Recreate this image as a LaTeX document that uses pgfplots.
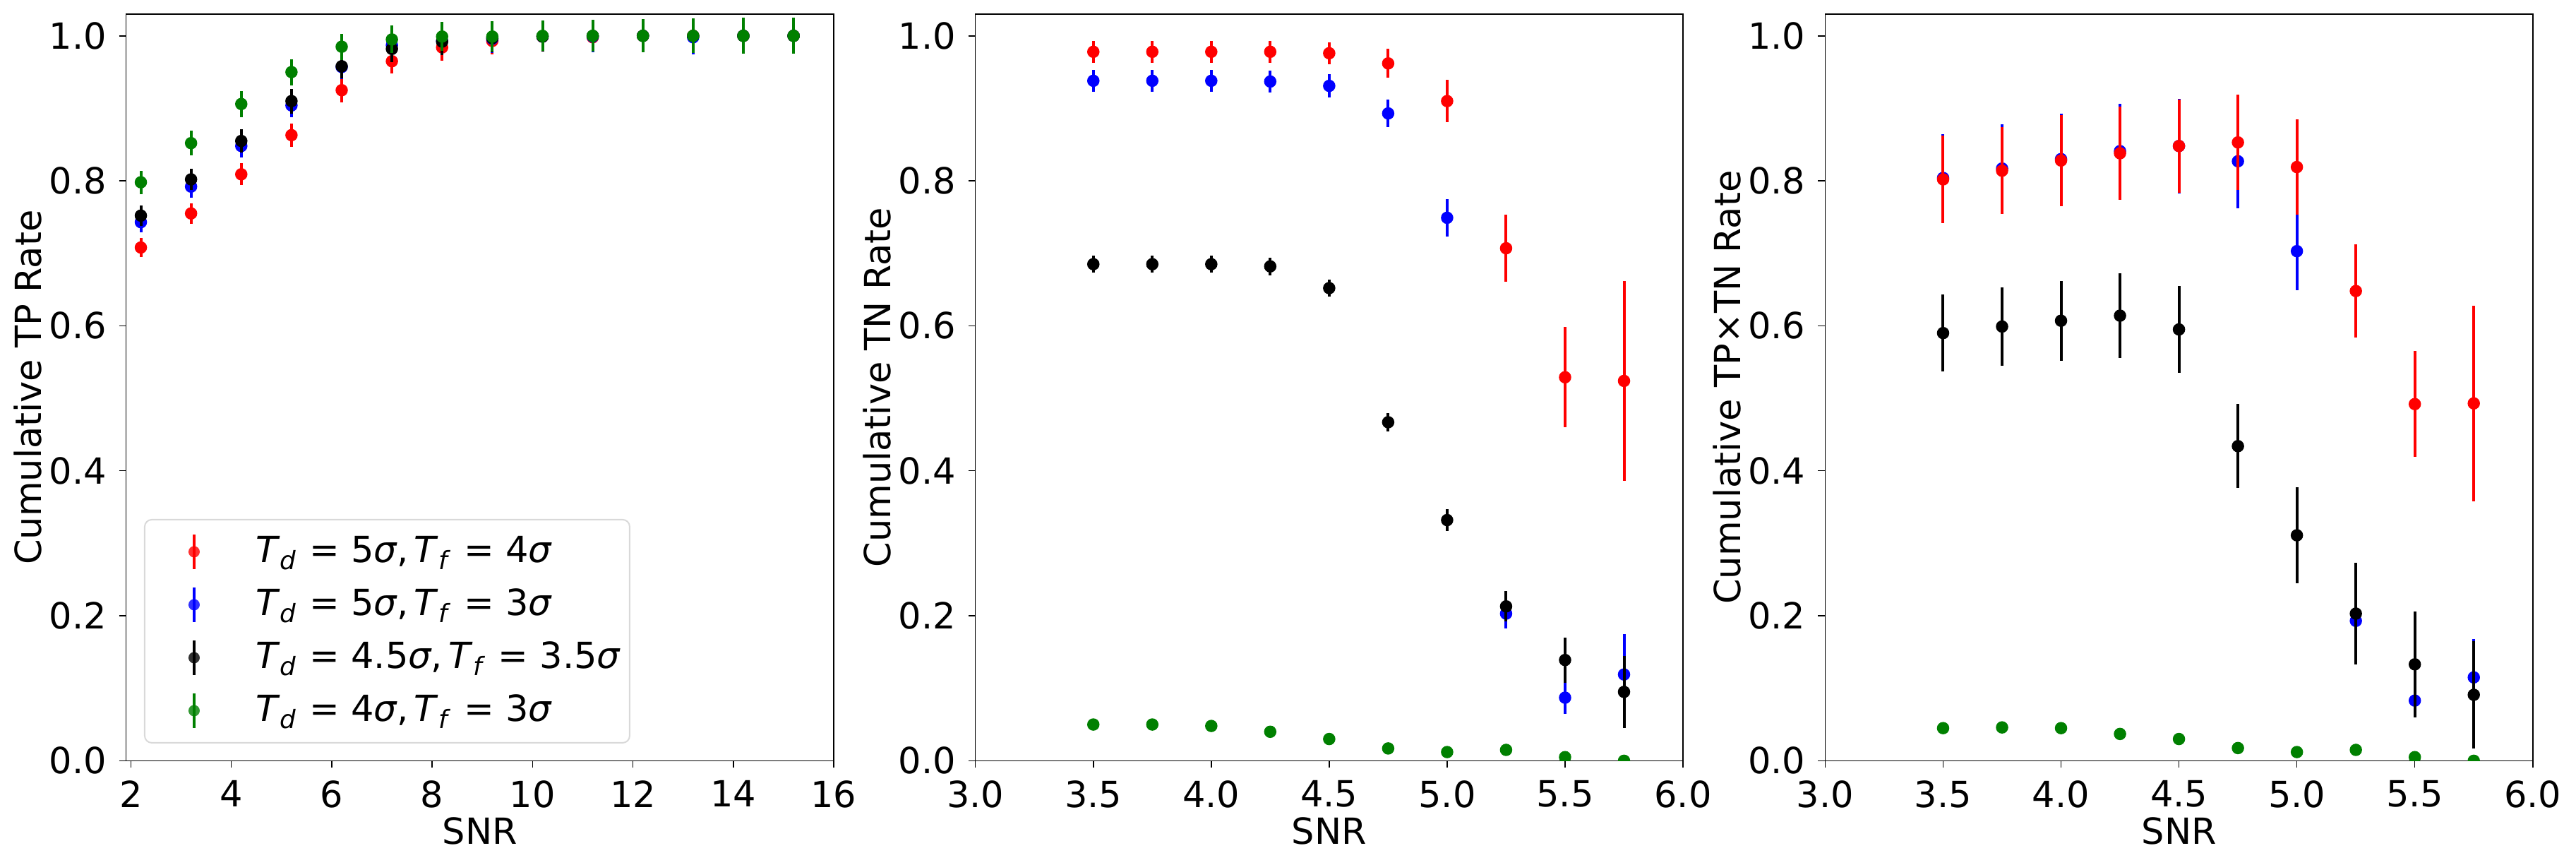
\documentclass[border=0pt]{standalone}
\usepackage{pgfplots}
\pgfplotsset{compat=1.18}
\usepackage{pgfplotstable}
\usepackage{fontspec}
\setmainfont{DejaVu Sans}
\definecolor{mgreen}{RGB}{0,128,0}
\definecolor{mred}{RGB}{255,0,0}
\definecolor{mblue}{RGB}{0,0,255}

\pgfplotstableread{
x    r     re    b     be    k     ke    g     ge
2.2  0.708 0.013 0.743 0.014 0.752 0.014 0.798 0.016
3.2  0.755 0.014 0.792 0.015 0.802 0.015 0.852 0.017
4.2  0.809 0.015 0.848 0.016 0.855 0.016 0.906 0.018
5.2  0.863 0.016 0.904 0.016 0.910 0.017 0.950 0.018
6.2  0.925 0.017 0.957 0.017 0.958 0.017 0.985 0.018
7.2  0.965 0.017 0.987 0.018 0.982 0.018 0.995 0.019
8.2  0.984 0.018 0.993 0.019 0.992 0.019 0.999 0.020
9.2  0.993 0.019 0.996 0.020 0.997 0.020 0.999 0.021
10.2 0.999 0.020 0.999 0.021 0.999 0.021 1.000 0.021
11.2 0.998 0.021 0.999 0.022 1.000 0.022 1.000 0.022
12.2 1.000 0.022 1.000 0.022 1.000 0.023 1.000 0.023
13.2 1.000 0.023 0.998 0.024 1.000 0.024 1.000 0.024
14.2 1.000 0.024 1.000 0.025 1.000 0.025 1.000 0.025
15.2 1.000 0.025 1.000 0.025 1.000 0.025 1.000 0.025
}\tp

\pgfplotstableread{
x    r     re    b     be    k     ke    g     ge
3.50 0.978 0.015 0.938 0.015 0.685 0.012 0.050 0.003
3.75 0.978 0.015 0.938 0.015 0.685 0.012 0.050 0.003
4.00 0.978 0.015 0.938 0.015 0.685 0.012 0.048 0.003
4.25 0.978 0.015 0.937 0.015 0.682 0.012 0.040 0.003
4.50 0.976 0.015 0.931 0.016 0.652 0.012 0.030 0.003
4.75 0.962 0.020 0.893 0.019 0.467 0.013 0.017 0.002
5.00 0.910 0.029 0.749 0.026 0.332 0.015 0.012 0.002
5.25 0.707 0.046 0.203 0.020 0.213 0.021 0.015 0.002
5.50 0.529 0.069 0.087 0.022 0.139 0.031 0.005 0.002
5.75 0.524 0.138 0.119 0.056 0.095 0.050 0.000 0.001
}\tn

\pgfplotstableread{
x    r     re    b     be    k     ke    g      ge
3.50 0.802 0.060 0.804 0.060 0.590 0.053 0.045  0.003
3.75 0.814 0.060 0.817 0.061 0.599 0.054 0.046  0.003
4.00 0.828 0.063 0.830 0.063 0.607 0.055 0.045  0.003
4.25 0.838 0.064 0.841 0.065 0.614 0.058 0.037  0.003
4.50 0.848 0.064 0.848 0.065 0.595 0.060 0.030  0.003
4.75 0.853 0.066 0.827 0.065 0.434 0.058 0.0175 0.002
5.00 0.819 0.066 0.703 0.054 0.311 0.066 0.012  0.002
5.25 0.648 0.064 0.193 0.030 0.203 0.070 0.015  0.002
5.50 0.492 0.073 0.083 0.022 0.133 0.073 0.005  0.002
5.75 0.493 0.135 0.115 0.053 0.091 0.074 0.000  0.001
}\tptn

\newcommand\legimg[1]{%
  \path[draw=none,fill=none] (0pt,-7.5pt) rectangle (29pt,7.5pt);
  \draw[#1,line width=0.8pt,rounded corners=0pt] (11.5pt,-4.9pt) -- (11.5pt,4.9pt);
  \fill[#1,draw=none] (11.5pt,0pt) circle (1.6pt);}

\pgfplotsset{
  base/.style={
    scale only axis, width=200.46pt, height=211.48pt, anchor=south west,
    ymin=0, ymax=1.03, ytick={0,0.2,...,1.0},
    tick align=outside, tick pos=left, major tick length=2pt,
    axis line style={line width=0.3pt},
    every tick/.style={black, line width=0.3pt},
    clip marker paths=true,
    /pgf/number format/assume math mode=true,
    yticklabel style={/pgf/number format/fixed,/pgf/number format/fixed zerofill,/pgf/number format/precision=1},
    font=\fontsize{10.2}{12.2}\selectfont,
    every axis x label/.style={at={(axis description cs:0.5,-0.0946)},anchor=center},
    every axis y label/.style={at={(axis description cs:-0.1387,0.5)},rotate=90,anchor=center},
    xlabel=SNR,
  },
  snr/.style={xmin=3, xmax=6, xtick={3,3.5,...,6},
    xticklabel style={/pgf/number format/fixed,/pgf/number format/fixed zerofill,/pgf/number format/precision=1}},
  ser/.style={#1, only marks, mark=*, mark size=1.6pt, mark options={line width=0.3pt},
    error bars/.cd, y dir=both, y explicit, error mark=none,
    error bar style={line width=0.8pt,#1}},
}

\begin{document}
\fontsize{10.2}{12.2}\selectfont
\begin{tikzpicture}
\useasboundingbox (0,0) rectangle (729.8pt,245pt);

\begin{axis}[base, at={(35.74pt,29.52pt)},
  xmin=1.907, xmax=16, xtick={2,4,...,16},
  ylabel={Cumulative TP Rate},
  legend style={at={(0.0252,0.0231)}, anchor=south west,
    draw=black!15, line width=0.4pt, rounded corners=2pt,
    fill=white, fill opacity=0.8, text opacity=1,
    inner xsep=2.5pt, inner ysep=1.6pt, row sep=0pt,
    nodes={inner sep=0pt, draw=none, font=\fontsize{10.2}{12.2}\selectfont}},
  legend cell align=left]
\addplot[legend image code/.code={\legimg{mred}}, ser=mred] table[x=x,y=r,y error=re]{\tp};
\addlegendentry{\textit{T}\textsubscript{\textit{d}} = 5\textit{σ},\,\textit{T}\textsubscript{\textit{f}} = 4\textit{σ}}
\addplot[legend image code/.code={\legimg{mblue}}, ser=mblue] table[x=x,y=b,y error=be]{\tp};
\addlegendentry{\textit{T}\textsubscript{\textit{d}} = 5\textit{σ},\,\textit{T}\textsubscript{\textit{f}} = 3\textit{σ}}
\addplot[legend image code/.code={\legimg{black}}, ser=black] table[x=x,y=k,y error=ke]{\tp};
\addlegendentry{\textit{T}\textsubscript{\textit{d}} = 4.5\textit{σ},\,\textit{T}\textsubscript{\textit{f}} = 3.5\textit{σ}}
\addplot[legend image code/.code={\legimg{mgreen}}, ser=mgreen] table[x=x,y=g,y error=ge]{\tp};
\addlegendentry{\textit{T}\textsubscript{\textit{d}} = 4\textit{σ},\,\textit{T}\textsubscript{\textit{f}} = 3\textit{σ}}
\end{axis}

\begin{axis}[base, snr, at={(276.34pt,29.52pt)}, ylabel={Cumulative TN Rate}]
\addplot[ser=mred] table[x=x,y=r,y error=re]{\tn};
\addplot[ser=mblue] table[x=x,y=b,y error=be]{\tn};
\addplot[ser=black] table[x=x,y=k,y error=ke]{\tn};
\addplot[ser=mgreen] table[x=x,y=g,y error=ge]{\tn};
\end{axis}

\begin{axis}[base, snr, at={(517.08pt,29.52pt)}, ylabel={Cumulative TP×TN Rate}]
\addplot[ser=mblue] table[x=x,y=b,y error=be]{\tptn};
\addplot[ser=mred] table[x=x,y=r,y error=re]{\tptn};
\addplot[ser=black] table[x=x,y=k,y error=ke]{\tptn};
\addplot[ser=mgreen] table[x=x,y=g,y error=ge]{\tptn};
\end{axis}
\end{tikzpicture}
\end{document}
